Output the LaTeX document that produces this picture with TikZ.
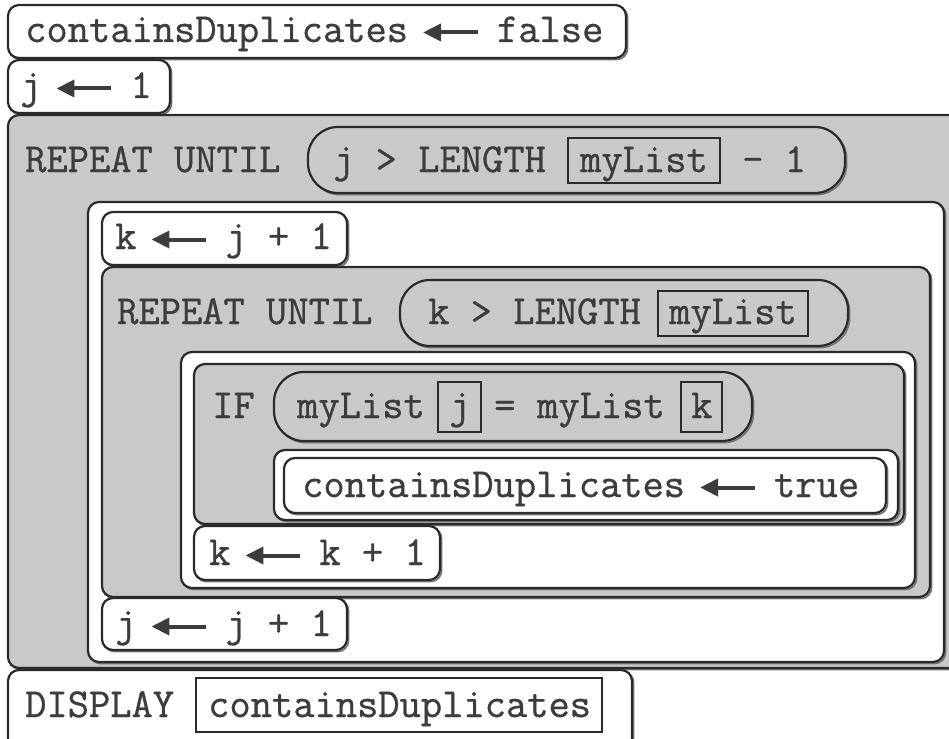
\documentclass[tikz,border=0pt]{standalone}
\usepackage{fontspec}
\setmonofont{Latin Modern Mono}[FakeBold=0.7]
\usetikzlibrary{arrows.meta}
\definecolor{boxgray}{HTML}{C9C9C9}
\definecolor{edge}{HTML}{2A2A2A}
\definecolor{ink}{HTML}{3C3C3C}
\newcommand\code{\fontsize{41.3}{49}\selectfont\ttfamily}
\newcommand\la{\hspace{13pt}\tikz[baseline=0pt]{\path (0pt,0pt) rectangle (55pt,1pt);
  \draw[line width=4pt,ink,-{Triangle[length=18pt,width=17pt]}] (55pt,9.5pt)--(0pt,9.5pt);}\hspace{17pt}}
\tikzset{
  shad/.style={preaction={draw=black!55, line width=1.6pt, transform canvas={shift={(1.6pt,-1.6pt)}}}},
  stmtbox/.style={shad, draw=edge, line width=2.2pt, fill=white, rounded corners=11pt},
  blkbox/.style={shad, draw=edge, line width=2.2pt, fill=boxgray, rounded corners=11pt},
  bodybox/.style={shad, draw=edge, line width=2.2pt, fill=white, rounded corners=11pt},
  pillbox/.style={shad, draw=edge, line width=2.2pt, fill=boxgray, rounded corners=30pt},
  argbox/.style={draw=edge, line width=2.2pt},
  txt/.style={anchor=base west, inner sep=0pt, text=ink, font=\code},
}
\begin{document}
\begin{tikzpicture}[x=1pt,y=-1pt]
\useasboundingbox (0,0) rectangle (949,738);
\clip (0,0) rectangle (949,738);
\fill[white] (0,0) rectangle (949,738);
% statement 1
\draw[stmtbox] (8,5) rectangle (626,58);
\node[txt] (t1) at (25,42) {containsDuplicates\la false};
% statement 2
\draw[stmtbox] (8,60) rectangle (170,113);
\node[txt] (t2) at (20,98) {j\la 1};
% outer repeat
\draw[blkbox] (8,115) rectangle (960,668);
\node[txt] (r1) at (25,172) {REPEAT UNTIL};
\draw[pillbox] (308,127) rectangle (845,193);
\node[txt] (c1) at (333,172) {j > LENGTH};
\draw[argbox] (568,138) rectangle (720,183);
\node[txt] (c1a) at (580,172) {myList};
\node[txt] (c1b) at (742,172) {- 1};
% outer body
\draw[bodybox] (88,202) rectangle (944,662);
\draw[stmtbox] (102,212) rectangle (347,265);
\node[txt] (t3) at (115,249) {k\la j + 1};
% inner repeat
\draw[blkbox] (102,267) rectangle (930,597);
\node[txt] (r2) at (117,324) {REPEAT UNTIL};
\draw[pillbox] (400,280) rectangle (848,346);
\node[txt] (c2) at (428,324) {k > LENGTH};
\draw[argbox] (658,291) rectangle (808,336);
\node[txt] (c2a) at (669,324) {myList};
% inner body
\draw[bodybox] (181,352) rectangle (915,588);
% IF
\draw[blkbox] (194,364) rectangle (904,524);
\node[txt] (if) at (212,418) {IF};
\draw[pillbox] (274,372) rectangle (752,441);
\node[txt] (c3) at (297,418) {myList};
\draw[argbox] (438,382) rectangle (481,432);
\node[txt] (c3a) at (449,418) {j};
\node[txt] (c3b) at (494,418) {=};
\node[txt] (c3c) at (537,418) {myList};
\draw[argbox] (681,382) rectangle (722,432);
\node[txt] (c3d) at (691,418) {k};
% THEN
\draw[bodybox] (274,450) rectangle (898,520);
\draw[stmtbox] (284,458) rectangle (886,513);
\node[txt] (t4) at (302,497) {containsDuplicates\la true};
% k <- k+1
\draw[stmtbox] (194,526) rectangle (440,580);
\node[txt] (t5) at (209,565) {k\la k + 1};
% j <- j+1
\draw[stmtbox] (102,598) rectangle (347,650);
\node[txt] (t6) at (115,636) {j\la j + 1};
% display
\draw[stmtbox] (8,670) rectangle (632,752);
\node[txt] (t7) at (25,717) {DISPLAY};
\draw[argbox] (196,678) rectangle (602,732);
\node[txt] (t8) at (208,717) {containsDuplicates};
\end{tikzpicture}
\end{document}
